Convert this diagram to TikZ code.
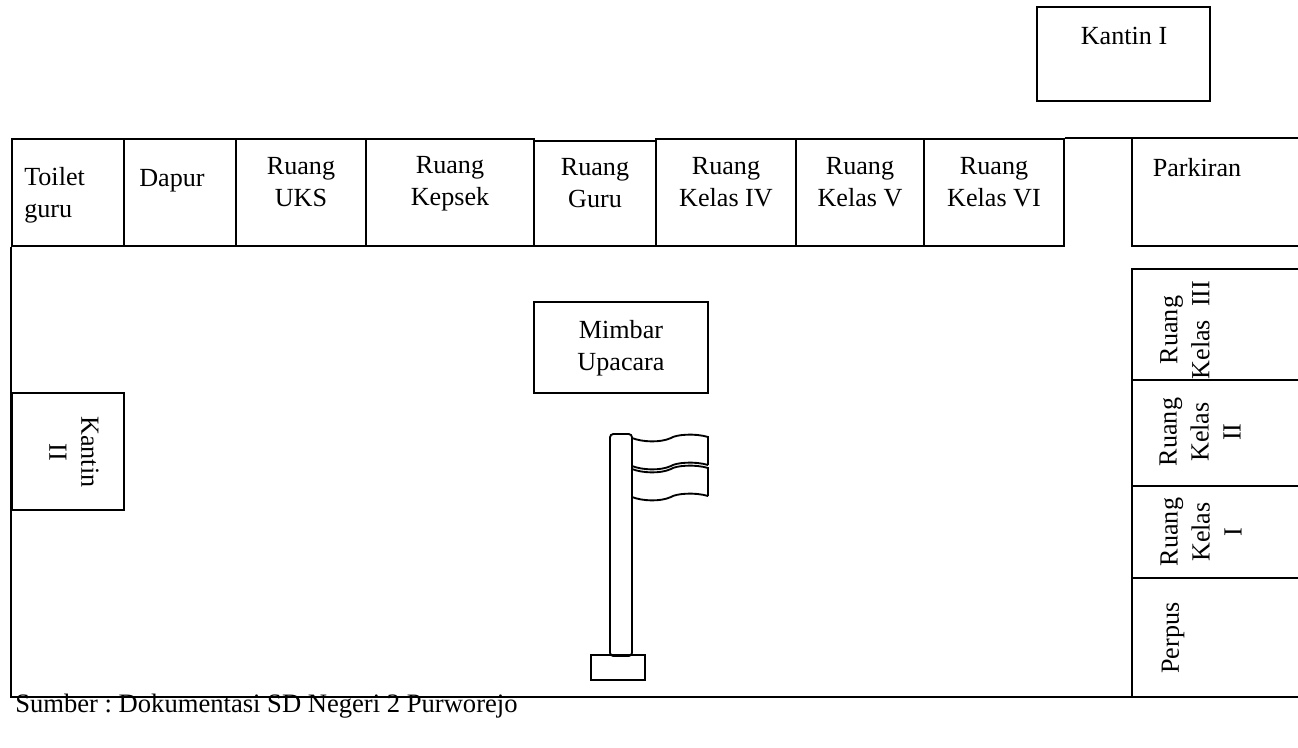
\documentclass[tikz,border=0pt]{standalone}
\usepackage{fontspec}
\setmainfont{Liberation Serif}
\usepackage{tikz}
\tikzset{
  wall/.style={draw=black, line width=1.4pt},
  roombox/.style={wall, rectangle, inner sep=0pt},
  lbl/.style={inner sep=0pt, align=center, font=\fontsize{19.6}{24}\selectfont},
}
\newcommand{\roomat}[5]{\node[roombox, minimum width=#4*0.75pt-#2*0.75pt, minimum height=#5*0.75pt-#3*0.75pt] (#1) at ({(#2+#4)/2},{(#3+#5)/2}) {};}
\newcommand{\wave}[1]{(632,#1) .. controls (642,#1+4) and (660,#1+5) .. (671,#1) .. controls (676,#1-3.5) and (695,#1-5) .. (708,#1-1)}

\begin{document}
\begin{tikzpicture}[x=0.75pt, y=-0.75pt]
\useasboundingbox (0,0) rectangle (1298,747);
\roomat{kantinA}{1037}{7}{1210}{101}
\roomat{toilet}{12}{139}{124}{246}
\roomat{dapur}{124}{139}{236}{246}
\roomat{uks}{236}{139}{366}{246}
\roomat{kepsek}{366}{139}{534}{246}
\roomat{guru}{534}{141}{656}{246}
\roomat{kelasIV}{656}{139}{796}{246}
\roomat{kelasV}{796}{139}{924}{246}
\roomat{kelasVI}{924}{139}{1064}{246}
\roomat{mimbar}{534}{302}{708}{393}
\roomat{kantinB}{12}{393}{124}{510}
\roomat{base}{591}{655}{645}{680}

\coordinate (parkT) at (1132,139);
\coordinate (parkB) at (1132,246);
\coordinate (colT) at (1132,269);
\coordinate (colB) at (1132,697);
\coordinate (parkR) at (1298,246);
\coordinate (kIIIt) at (1298,269);
\coordinate (kIIIb) at (1298,380);
\coordinate (kIIb) at (1298,486);
\coordinate (kIb) at (1298,578);
\coordinate (botR) at (1298,697);

\draw[wall] (kelasVI.north east) -- (kelasVI.north east -| botR);
\draw[wall] (parkT) -- (parkB) -- (parkR);
\draw[wall] (kIIIt) -- (colT) -- (colB);
\draw[wall] (colT |- kIIIb) -- (kIIIb);
\draw[wall] (colT |- kIIb) -- (kIIb);
\draw[wall] (colT |- kIb) -- (kIb);
\draw[wall] (toilet.south west) -- (toilet.south west |- botR) -- (botR);

\draw[wall, rounded corners=2.5pt] (610,434) rectangle (632,656);
\draw[wall] \wave{438} -- (708,465);
\draw[wall] \wave{466};
\draw[wall] \wave{469} -- (708,496);
\draw[wall] \wave{497};

\node[lbl] (kantinAT) at (1124,36) {Kantin I};
\node[lbl, align=left, anchor=west] (toiletT) at (24,195) {Toilet\\guru};
\node[lbl] (dapurT) at (172,181) {Dapur};
\node[lbl] (uksT) at (301,182) {Ruang\\UKS};
\node[lbl] (kepsekT) at (450,184) {Ruang\\Kepsek};
\node[lbl] (guruT) at (595,183.5) {Ruang\\Guru};
\node[lbl] (kelasIVT) at (726,182) {Ruang\\Kelas IV};
\node[lbl] (kelasVT) at (860,182) {Ruang\\Kelas V};
\node[lbl] (kelasVIT) at (994,182) {Ruang\\Kelas VI};
\node[lbl] (parkirT) at (1197,168) {Parkiran};
\node[lbl] (mimbarT) at (621,348.5) {Mimbar\\Upacara};
\node[lbl, rotate=-90] (kantinBT) at (74,452) {Kantin\\II};
\node[lbl, rotate=90] (kelasIIIT) at (1185,330) {Ruang\\Kelas\ \ III};
\node[lbl, rotate=90] (kelasIIT) at (1200,432) {Ruang\\Kelas\\II};
\node[lbl, rotate=90] (kelasIT) at (1201,532) {Ruang\\Kelas\\I};
\node[lbl, rotate=90] (perpusT) at (1173,638) {Perpus};
\node[lbl, anchor=west, font=\fontsize{19.95}{24}\selectfont\frenchspacing] (sumberT) at (15,706) {Sumber : Dokumentasi SD Negeri 2 Purworejo};
\end{tikzpicture}
\end{document}
